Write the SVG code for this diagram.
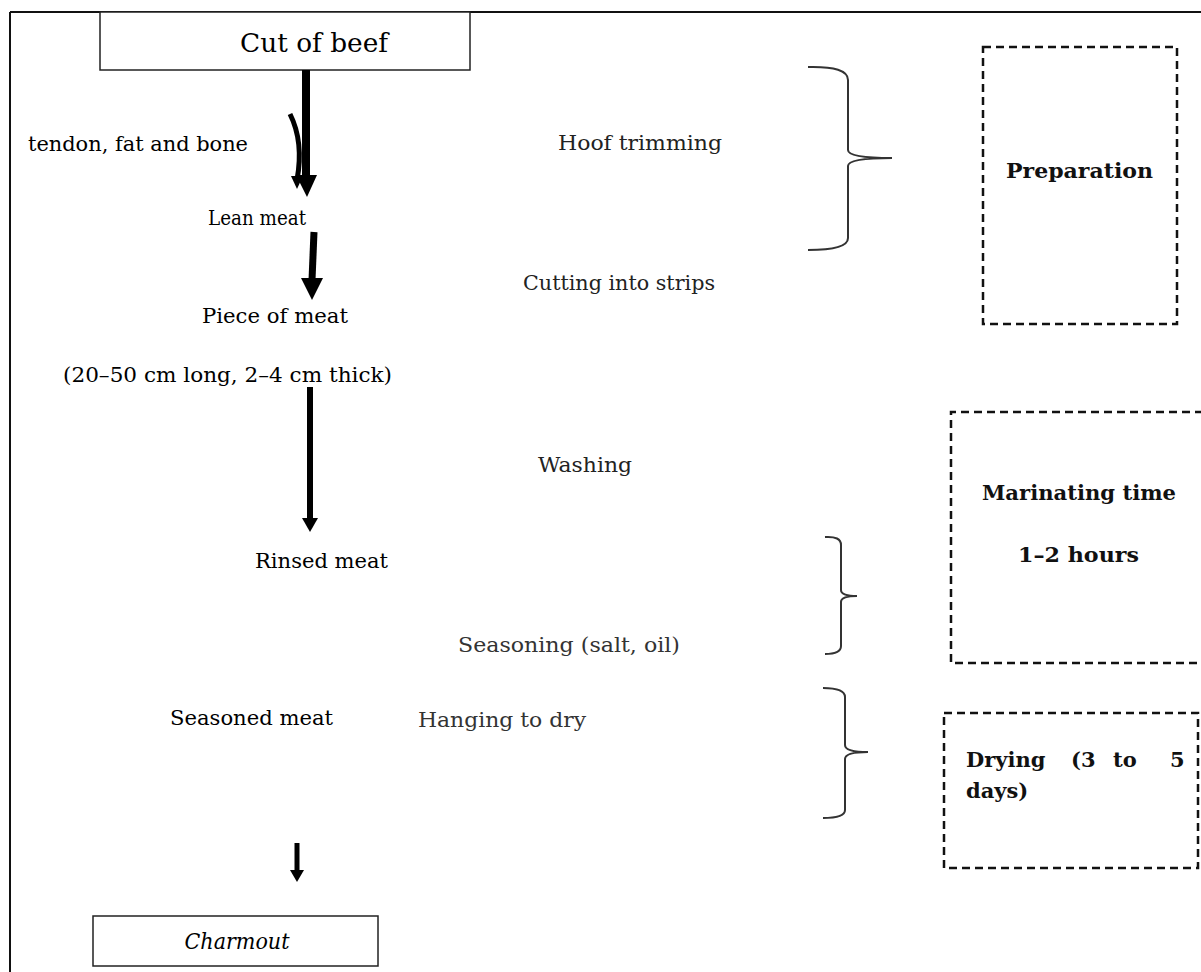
<svg xmlns="http://www.w3.org/2000/svg" width="1201" height="972" viewBox="0 0 1201 972">
<style>
  .t { font-family: "DejaVu Serif", "Liberation Serif", serif; font-size: 21px; fill: #000; }
  .m { fill: #222; }
  .g { fill: #333; }
  .b { font-family: "DejaVu Serif", "Liberation Serif", serif; font-size: 21px; font-weight: bold; fill: #111; }
  .box { fill: #fff; stroke: #222; stroke-width: 1.5; }
  .dash { fill: none; stroke: #111; stroke-width: 2.5; stroke-dasharray: 8 5; }
  .brace { fill: none; stroke: #333; stroke-width: 2; }
  .shaft { stroke: #000; fill: none; }
</style>
<rect width="1201" height="972" fill="#fff"/>
<g id="frame">
  <line x1="10" y1="12" x2="1201" y2="12" stroke="#111" stroke-width="2"/>
  <line x1="10" y1="12" x2="10" y2="972" stroke="#111" stroke-width="2"/>
</g>
<g id="node-cut">
  <rect class="box" x="100" y="12" width="370" height="58"/>
  <text class="t" x="240" y="52" textLength="148" lengthAdjust="spacingAndGlyphs" style="font-size:26px">Cut of beef</text>
</g>
<g id="label-tendon"><text class="t" x="28" y="151" textLength="220" lengthAdjust="spacingAndGlyphs">tendon, fat and bone</text></g>
<g id="node-lean"><text class="t" x="208" y="225" textLength="98" lengthAdjust="spacingAndGlyphs" style="font-size:20px">Lean meat</text></g>
<g id="node-piece">
  <text class="t" x="202" y="323" textLength="146" lengthAdjust="spacingAndGlyphs">Piece of meat</text>
  <text class="t" x="63" y="382" textLength="329" lengthAdjust="spacingAndGlyphs">(20–50 cm long, 2–4 cm thick)</text>
</g>
<g id="node-rinsed"><text class="t" x="255" y="568" textLength="133" lengthAdjust="spacingAndGlyphs">Rinsed meat</text></g>
<g id="node-seasoned"><text class="t" x="170" y="725" textLength="163" lengthAdjust="spacingAndGlyphs">Seasoned meat</text></g>
<g id="node-charmout">
  <rect class="box" x="93" y="916" width="285" height="50"/>
  <text class="t" x="237" y="949" text-anchor="middle" font-style="italic" textLength="105" lengthAdjust="spacingAndGlyphs" style="font-size:23px">Charmout</text>
</g>
<g id="step-hoof"><text class="t m" x="558" y="150" textLength="164" lengthAdjust="spacingAndGlyphs">Hoof trimming</text></g>
<g id="step-cutting"><text class="t m" x="523" y="290" textLength="192" lengthAdjust="spacingAndGlyphs">Cutting into strips</text></g>
<g id="step-washing"><text class="t m" x="538" y="472" textLength="94" lengthAdjust="spacingAndGlyphs">Washing</text></g>
<g id="step-seasoning"><text class="t g" x="458" y="652" textLength="222" lengthAdjust="spacingAndGlyphs">Seasoning (salt, oil)</text></g>
<g id="step-hanging"><text class="t g" x="418" y="727" textLength="168" lengthAdjust="spacingAndGlyphs">Hanging to dry</text></g>
<g id="phase-preparation">
  <rect class="dash" x="983" y="47" width="194" height="277"/>
  <text class="b" x="1006" y="178" textLength="147" lengthAdjust="spacingAndGlyphs">Preparation</text>
</g>
<g id="phase-marinating">
  <path class="dash" d="M1203 412 H951 V663 H1203"/>
  <text class="b" x="982" y="500" textLength="194" lengthAdjust="spacingAndGlyphs">Marinating time</text>
  <text class="b" x="1018" y="562" textLength="121" lengthAdjust="spacingAndGlyphs">1–2 hours</text>
</g>
<g id="phase-drying">
  <rect class="dash" x="944" y="713" width="254" height="155"/>
  <text class="b"><tspan x="966" y="767">Drying</tspan><tspan x="1071" y="767">(3</tspan><tspan x="1113" y="767">to</tspan><tspan x="1170" y="767">5</tspan><tspan x="966" y="798">days)</tspan></text>
</g>
<g id="connectors">
  <line class="shaft" x1="306" y1="70" x2="306" y2="178" stroke-width="8"/>
  <polygon points="296,175 317,175 307,197" fill="#000"/>
  <path d="M290 114 Q304 142 297 180" fill="none" stroke="#000" stroke-width="5"/>
  <polygon points="291,176 303,176 297,189" fill="#000"/>
  <line class="shaft" x1="314" y1="232" x2="312" y2="280" stroke-width="7"/>
  <polygon points="301,278 323,278 312,300" fill="#000"/>
  <line class="shaft" x1="310" y1="387" x2="310" y2="520" stroke-width="6"/>
  <polygon points="302,518 318,518 310,532" fill="#000"/>
  <line class="shaft" x1="297" y1="843" x2="297" y2="872" stroke-width="5"/>
  <polygon points="290,870 304,870 297,882" fill="#000"/>
  <path class="brace" d="M808 67 Q848 66 848 80 V150 Q848 158 892 158 Q848 158 848 166 V238 Q848 250 808 250"/>
  <path class="brace" d="M825 537 Q841 536 841 545 V590 Q841 596 857 596 Q841 596 841 602 V646 Q841 654 825 654"/>
  <path class="brace" d="M823 688 Q845 688 845 697 V745 Q845 752 868 752 Q845 752 845 759 V810 Q845 818 823 818"/>
</g>
</svg>
